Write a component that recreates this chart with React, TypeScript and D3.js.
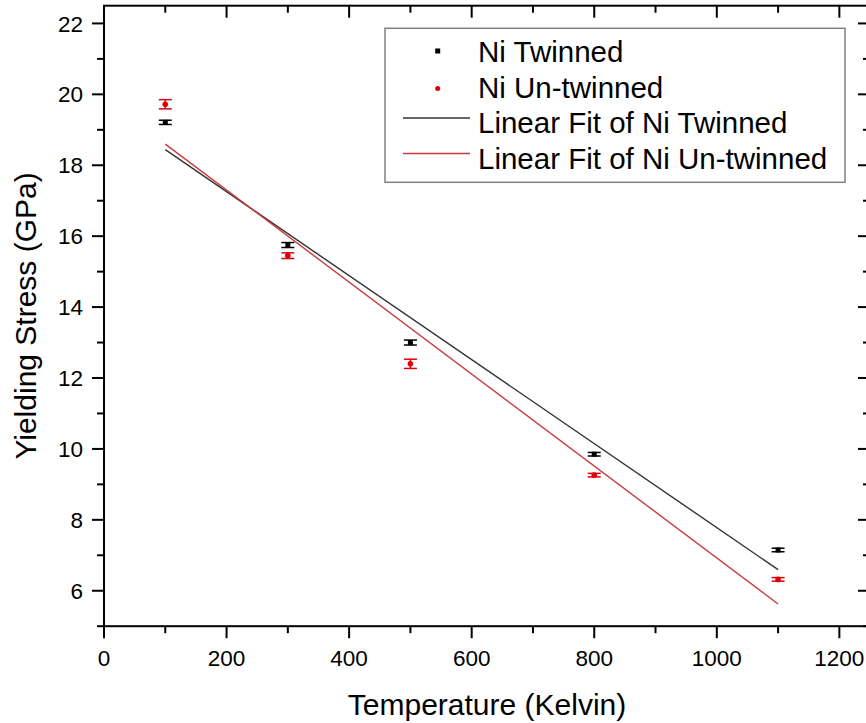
import React from "react";
import * as d3 from "d3";

const temperatures = [100, 300, 500, 800, 1100];
const twinnedStress = [19.21, 15.75, 13.0, 9.85, 7.15];
const twinnedErr = [0.06, 0.07, 0.07, 0.05, 0.05];
const untwinnedStress = [19.72, 15.45, 12.4, 9.26, 6.32];
const untwinnedErr = [0.13, 0.08, 0.13, 0.05, 0.05];

const xTicks = [0, 200, 400, 600, 800, 1000, 1200];
const xMinorTicks = [100, 300, 500, 700, 900, 1100];
const yTicks = [6, 8, 10, 12, 14, 16, 18, 20, 22];
const yMinorTicks = [5, 7, 9, 11, 13, 15, 17, 19, 21];

const legendLabels = [
  "Ni Twinned",
  "Ni Un-twinned",
  "Linear Fit of Ni Twinned",
  "Linear Fit of Ni Un-twinned",
];

function linearFit(xs: number[], ys: number[]) {
  const mx = d3.mean(xs) as number;
  const my = d3.mean(ys) as number;
  let sxy = 0;
  let sxx = 0;
  xs.forEach((x, i) => {
    sxy += (x - mx) * (ys[i] - my);
    sxx += (x - mx) * (x - mx);
  });
  const slope = sxy / sxx;
  const intercept = my - slope * mx;
  return (x: number) => intercept + slope * x;
}

export default function App() {
  const W = 866;
  const H = 723;
  const left = 104;
  const right = 870;
  const top = 5.7;
  const bottom = 626.2;

  const x = d3.scaleLinear().domain([0, 1250]).range([left, right]);
  const y = d3.scaleLinear().domain([5, 22.5]).range([bottom, top]);

  const black = "#000";
  const red = "#e0000b";
  const fitBlack = "#333";
  const fitRed = "#cc3a3a";

  const fitT = linearFit(temperatures, twinnedStress);
  const fitU = linearFit(temperatures, untwinnedStress);
  const xMin = d3.min(temperatures) as number;
  const xMax = d3.max(temperatures) as number;
  const fitLine = (f: (v: number) => number) =>
    d3
      .line<number>()
      .x((d) => x(d))
      .y((d) => y(f(d)))([xMin, xMax]) as string;

  const font = "Liberation Sans, Arial, sans-serif";
  const majorLen = 12;
  const minorLen = 7;
  const capHalf = 6.5;

  const errorBars = (vals: number[], errs: number[], color: string) =>
    temperatures.map((t, i) => {
      const cx = x(t);
      const y1 = y(vals[i] + errs[i]);
      const y2 = y(vals[i] - errs[i]);
      return (
        <g key={`e${color}${i}`} stroke={color} strokeWidth={1.5}>
          <line x1={cx} x2={cx} y1={y1} y2={y2} />
          <line x1={cx - capHalf} x2={cx + capHalf} y1={y1} y2={y1} />
          <line x1={cx - capHalf} x2={cx + capHalf} y1={y2} y2={y2} />
        </g>
      );
    });

  const legX = 385;
  const legY = 28.3;
  const legW = 460;
  const legH = 154;
  const rowY = [62, 97.5, 133, 168.5];
  const textX = 478;

  return (
    <svg
      width={W}
      height={H}
      style={{ position: "absolute", left: 0, top: 0, background: "#fff" }}
      fontFamily={font}
    >
      <rect x={0} y={0} width={W} height={H} fill="#fff" />

      {/* fit lines */}
      <path d={fitLine(fitT)} fill="none" stroke={fitBlack} strokeWidth={1.4} />
      <path d={fitLine(fitU)} fill="none" stroke={fitRed} strokeWidth={1.4} />

      {/* error bars and markers */}
      {errorBars(twinnedStress, twinnedErr, black)}
      {errorBars(untwinnedStress, untwinnedErr, red)}
      {temperatures.map((t, i) => (
        <rect
          key={`t${i}`}
          x={x(t) - 2.5}
          y={y(twinnedStress[i]) - 2.5}
          width={5}
          height={5}
          fill={black}
        />
      ))}
      {temperatures.map((t, i) => (
        <circle
          key={`u${i}`}
          cx={x(t)}
          cy={y(untwinnedStress[i])}
          r={2.8}
          fill={red}
        />
      ))}

      {/* frame */}
      <rect
        x={left}
        y={top}
        width={right - left}
        height={bottom - top}
        fill="none"
        stroke="#000"
        strokeWidth={2}
      />

      {/* x ticks */}
      {xTicks.map((t) => (
        <g key={`xt${t}`} stroke="#000" strokeWidth={2}>
          <line x1={x(t)} x2={x(t)} y1={bottom} y2={bottom + majorLen} />
          <line x1={x(t)} x2={x(t)} y1={top} y2={top + majorLen} />
        </g>
      ))}
      {xMinorTicks.map((t) => (
        <g key={`xm${t}`} stroke="#000" strokeWidth={2}>
          <line x1={x(t)} x2={x(t)} y1={bottom} y2={bottom + minorLen} />
          <line x1={x(t)} x2={x(t)} y1={top} y2={top + minorLen} />
        </g>
      ))}
      {xTicks.map((t) => (
        <text
          key={`xl${t}`}
          x={x(t)}
          y={666}
          textAnchor="middle"
          fontSize={22.5}
          fill="#000"
        >
          {t}
        </text>
      ))}

      {/* y ticks */}
      {yTicks.map((v) => (
        <g key={`yt${v}`} stroke="#000" strokeWidth={2}>
          <line x1={left - majorLen} x2={left} y1={y(v)} y2={y(v)} />
          <line x1={right - majorLen} x2={right} y1={y(v)} y2={y(v)} />
        </g>
      ))}
      {yMinorTicks.map((v) => (
        <g key={`ym${v}`} stroke="#000" strokeWidth={2}>
          <line x1={left - minorLen} x2={left} y1={y(v)} y2={y(v)} />
          <line x1={right - minorLen} x2={right} y1={y(v)} y2={y(v)} />
        </g>
      ))}
      {yTicks.map((v) => (
        <text
          key={`yl${v}`}
          x={83}
          y={y(v)}
          dy="0.36em"
          textAnchor="end"
          fontSize={22.5}
          fill="#000"
        >
          {v}
        </text>
      ))}

      {/* axis titles */}
      <text
        x={(left + right) / 2}
        y={715}
        textAnchor="middle"
        fontSize={30}
        fill="#000"
      >
        Temperature (Kelvin)
      </text>
      <text
        transform={`translate(36,${(top + bottom) / 2}) rotate(-90)`}
        textAnchor="middle"
        fontSize={30}
        fill="#000"
      >
        Yielding Stress (GPa)
      </text>

      {/* legend */}
      <rect
        x={legX}
        y={legY}
        width={legW}
        height={legH}
        fill="#fff"
        stroke="#808080"
        strokeWidth={1.5}
      />
      <rect x={437.7 - 2.5} y={rowY[0] - 11 - 2.5} width={5} height={5} fill={black} />
      <circle cx={437.7} cy={rowY[1] - 9} r={2.5} fill={red} />
      <line x1={403} x2={470} y1={rowY[2] - 15} y2={rowY[2] - 15} stroke={fitBlack} strokeWidth={1.4} />
      <line x1={403} x2={470} y1={rowY[3] - 15} y2={rowY[3] - 15} stroke={fitRed} strokeWidth={1.4} />
      {legendLabels.map((lab, i) => (
        <text key={lab} x={textX} y={rowY[i]} fontSize={29.5} fill="#000">
          {lab}
        </text>
      ))}
    </svg>
  );
}
